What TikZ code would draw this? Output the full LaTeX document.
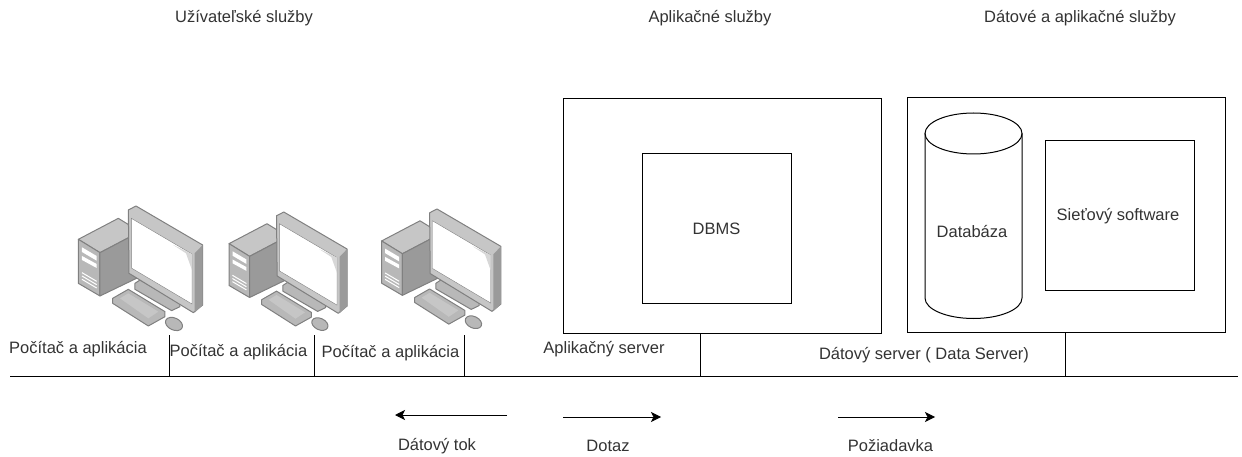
\documentclass[tikz,border=0pt]{standalone}
\usepackage{fontspec}
\setmainfont{Liberation Sans}
\usetikzlibrary{arrows.meta,positioning}

\definecolor{labelgray}{HTML}{333333}
\definecolor{casegray}{HTML}{B8B8B8}
\definecolor{sidegray}{HTML}{9A9A9A}
\definecolor{edgegray}{HTML}{808080}
\definecolor{bezelgray}{HTML}{C6C6C6}

\tikzset{
	box/.style={draw, line width=1pt, minimum size=149pt, inner sep=0pt, text=labelgray, font=\fontsize{16.5}{19}\selectfont},
	label/.style={font=\fontsize{16.5}{19}\selectfont, text=labelgray, inner sep=0pt},
	line/.style={draw, line width=1pt},
	flow/.style={draw, line width=1pt, -{Stealth[length=10pt,width=10pt,inset=2.5pt]}},
	part/.style={draw=edgegray, line width=1pt, line join=round},
	computer/.pic={
		\begin{scope}[x=0.3333pt, y=-0.3333pt]
			\path[part, fill=bezelgray] (55,148) -- (175,85) -- (240,125) -- (120,188) -- cycle;
			\path[part, fill=casegray] (55,148) -- (120,188) -- (120,318) -- (55,280) -- cycle;
			\path[part, fill=sidegray] (120,188) -- (240,125) -- (240,260) -- (120,318) -- cycle;
			\path[fill=white] (66,172) -- (110,198) -- (110,212) -- (66,186) -- cycle;
			\path[fill=white] (66,198) -- (110,222) -- (110,234) -- (66,210) -- cycle;
			\path[draw=white, line width=1pt] (66,248) -- (110,274) (66,258) -- (110,284) (66,268) -- (110,294);
			\path[part, fill=casegray] (225,280) -- (240,270) -- (360,340) -- (360,350) -- (335,362) -- (225,298) -- cycle;
			\path[part, fill=bezelgray] (205,60) -- (228,48) -- (428,165) -- (428,345) -- (400,368) -- (207,250) -- cycle;
			\path[fill=sidegray] (404,190) -- (428,165) -- (428,345) -- (404,368) -- cycle;
			\path[draw=edgegray, fill=white] (214,85) -- (396,192) -- (396,342) -- (214,234) -- cycle;
			\path[fill=bezelgray!70] (340,165) -- (396,192) -- (396,240) -- (378,190) -- cycle;
			\path[part, fill=casegray] (158,325) -- (205,298) -- (315,365) -- (315,380) -- (265,408) -- (158,340) -- cycle;
			\path[fill=bezelgray] (180,325) -- (205,310) -- (295,365) -- (265,385) -- cycle;
			\path[part, fill=casegray, rotate around={-25:(342,402)}] (342,402) ellipse (27 and 18);
		\end{scope}
	}
}

\begin{document}
\begin{tikzpicture}[x=1pt, y=-1pt, node distance=20pt, on grid]
	\useasboundingbox (0,0) rectangle (1242,457);

	% --- Servers ---
	\node[box, minimum width=318pt, minimum height=234pt] (app) at (722,216) {};
	\node[box] (dbms) [below left=12.5pt and 5.5pt of app] {DBMS};
	\node[box, minimum width=318pt, minimum height=234pt] (data) at (1066,215) {};
	\node[box] (net) at (1119.5,215.5) {};
	\node[label] (netl) at (1118,216) {Sieťový software};

	% --- Database ---
	\path[line] (973.5,133.5) ellipse (48.5 and 20.5);
	\path[line] (925,133.5) -- (925,298) .. controls (925,309.5) and (947,318.5) .. (973.5,318.5)
		.. controls (1000,318.5) and (1022,309.5) .. (1022,298) -- (1022,133.5);
	\node[label] (db) at (972,232) {Databáza};

	% --- Computers ---
	\pic (pc1) at (60,190) {computer};
	\pic[scale=0.95] (pc2) at (211.6,196.8) {computer};
	\pic[scale=0.96] (pc3) at (364,193.6) {computer};

	% --- Bus ---
	\coordinate (busl) at (10,376);
	\coordinate (busr) at (1238,376);
	\coordinate (t1) at (169,335);
	\coordinate (t2) at (314,335);
	\coordinate (t3) at (464,335);
	\coordinate (t4) at (700,333);
	\coordinate (t5) at (1065,332);
	\path[line] (busl) -- (busr);
	\path[line] (t1) -- (t1 |- busl);
	\path[line] (t2) -- (t2 |- busl);
	\path[line] (t3) -- (t3 |- busl);
	\path[line] (t4) -- (t4 |- busl);
	\path[line] (t5) -- (t5 |- busl);

	% --- Flows ---
	\coordinate (tokr) at (507,415);
	\coordinate (tokl) at (395,415);
	\coordinate (dotl) at (563,417);
	\coordinate (dotr) at (661,417);
	\coordinate (pozl) at (838,417);
	\coordinate (pozr) at (935,417);
	\path[flow] (tokr) -- (tokl);
	\path[flow] (dotl) -- (dotr);
	\path[flow] (pozl) -- (pozr);

	% --- Labels ---
	\node[label] (users) at (244,18) {Užívateľské služby};
	\node[label] (apps) at (710,18) {Aplikačné služby};
	\node[label] (datas) at (1080,18) {Dátové a aplikačné služby};
	\node[label] (pc1l) at (78,349) {Počítač a aplikácia};
	\node[label] (pc2l) at (238.5,352) {Počítač a aplikácia};
	\node[label] (pc3l) at (390.5,353) {Počítač a aplikácia};
	\node[label] (appl) at (604,349) {Aplikačný server};
	\node[label] (datal) at (924,355) {Dátový server ( Data Server)};
	\node[label] (tokt) at (437,446) {Dátový tok};
	\node[label] (dott) at (608,446) {Dotaz};
	\node[label] (pozt) at (890.5,446) {Požiadavka};
\end{tikzpicture}
\end{document}
